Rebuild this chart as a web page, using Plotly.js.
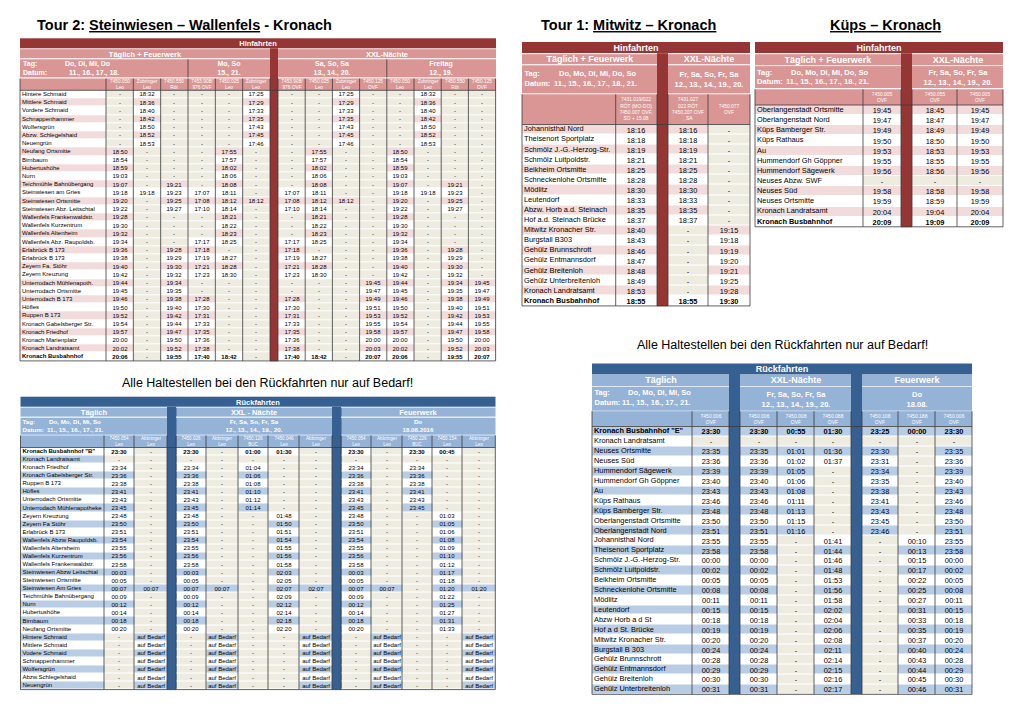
<!DOCTYPE html>
<html><head><meta charset="utf-8">
<script src="https://cdn.plot.ly/plotly-3.0.1.min.js"></script>
<style>html,body{margin:0;padding:0;background:#fff}#chart{width:1020px;height:721px}</style>
</head><body><div id="chart"></div>
<script>
// ---------------- DATA ----------------
// Tour 2 Hinfahrten
const t2hHead = ['Hinfahrten', 'Täglich + Feuerwerk', 'XXL-Nächte'];
const t2hDays = [['Tag:', 'Do, Di, Mi, Do'], ['Datum:', '11., 16., 17., 18.']];
const t2hGroups = ['Mo, So\n15., 21.', 'Sa, So, Sa\n13., 14., 20.', 'Freitag\n12., 19.'];
const t2hCodes = ['7450.050\nLeo','Zubringer\nLeo','7450.550\nRöt','7453.908/\n976 OVF','7450.025\nLeo','Zubringer\nLeo',
  '7453.908/\n976 OVF','7450.025\nLeo','Zubringer\nLeo','7450.125\nOVF','7450.050\nLeo','Zubringer\nLeo','7450.550\nRöt','7450.125\nOVF'];
const t2hStops = ['Hintere Schmaid','Mittlere Schmaid','Vordere Schmaid','Schnappenhammer','Wolfersgrün','Abzw. Schlegelshaid','Neuengrün',
  'Neufang Ortsmitte','Birnbaum','Hubertushöhe','Nurn','Teichmühle Bahnübergang','Steinwiesen am Gries','Steinwiesen Ortsmitte',
  'Steinwiesen Abz. Leitschtal','Wallenfels Frankenwaldstr.','Wallenfels Kurzentrum','Wallenfels Altenheim','Wallenfels Abz. Raupoldsb.',
  'Erlabrück B 173','Erlabrück B 173','Zeyern Fa. Stöhr','Zeyern Kreuzung','Unterrodach Mühlenapoth.','Unterrodach Ortsmitte',
  'Unterrodach B 173','Höfles','Ruppen B 173','Kronach Gabelsberger Str.','Kronach Friedhof','Kronach Marienplatz','Kronach Landratsamt','Kronach Busbahnhof'];
const t2hRows = [
  ['-','18:32','-','-','-','17:25','-','-','17:25','-','-','18:32','-','-'],
  ['-','18:36','-','-','-','17:29','-','-','17:29','-','-','18:36','-','-'],
  ['-','18:40','-','-','-','17:33','-','-','17:33','-','-','18:40','-','-'],
  ['-','18:42','-','-','-','17:35','-','-','17:35','-','-','18:42','-','-'],
  ['-','18:50','-','-','-','17:43','-','-','17:43','-','-','18:50','-','-'],
  ['-','18:52','-','-','-','17:45','-','-','17:45','-','-','18:52','-','-'],
  ['-','18:53','-','-','-','17:46','-','-','17:46','-','-','18:53','-','-'],
  ['18:50','-','-','-','17:55','-','-','17:55','-','-','18:50','-','-','-'],
  ['18:54','-','-','-','17:57','-','-','17:57','-','-','18:54','-','-','-'],
  ['18:59','-','-','-','18:02','-','-','18:02','-','-','18:59','-','-','-'],
  ['19:03','-','-','-','18:06','-','-','18:06','-','-','19:03','-','-','-'],
  ['19:07','-','19:21','-','18:08','-','-','18:08','-','-','19:07','-','19:21','-'],
  ['19:18','19:18','19:23','17:07','18:11','-','17:07','18:11','-','-','19:18','19:18','19:23','-'],
  ['19:20','-','19:25','17:08','18:12','18:12','17:08','18:12','18:12','-','19:20','-','19:25','-'],
  ['19:22','-','19:27','17:10','18:14','-','17:10','18:14','-','-','19:22','-','19:27','-'],
  ['19:28','-','-','-','18:21','-','-','18:21','-','-','19:28','-','-','-'],
  ['19:30','-','-','-','18:22','-','-','18:22','-','-','19:30','-','-','-'],
  ['19:32','-','-','-','18:23','-','-','18:23','-','-','19:32','-','-','-'],
  ['19:34','-','-','17:17','18:25','-','17:17','18:25','-','-','19:34','-','-','-'],
  ['19:36','-','19:28','17:18','-','-','17:18','-','-','-','19:36','-','19:28','-'],
  ['19:38','-','19:29','17:19','18:27','-','17:19','18:27','-','-','19:38','-','19:29','-'],
  ['19:40','-','19:30','17:21','18:28','-','17:21','18:28','-','-','19:40','-','19:30','-'],
  ['19:42','-','19:32','17:23','18:30','-','17:23','18:30','-','-','19:42','-','19:32','-'],
  ['19:44','-','19:34','-','-','-','-','-','-','19:45','19:44','-','19:34','19:45'],
  ['19:45','-','19:35','-','-','-','-','-','-','19:47','19:45','-','19:35','19:47'],
  ['19:46','-','19:38','17:28','-','-','17:28','-','-','19:49','19:46','-','19:38','19:49'],
  ['19:50','-','19:40','17:30','-','-','17:30','-','-','19:51','19:50','-','19:40','19:51'],
  ['19:52','-','19:42','17:31','-','-','17:31','-','-','19:53','19:52','-','19:42','19:53'],
  ['19:54','-','19:44','17:33','-','-','17:33','-','-','19:55','19:54','-','19:44','19:55'],
  ['19:57','-','19:47','17:35','-','-','17:35','-','-','19:58','19:57','-','19:47','19:58'],
  ['20:00','-','19:50','17:36','-','-','17:36','-','-','20:00','20:00','-','19:50','20:00'],
  ['20:02','-','19:52','17:38','-','-','17:38','-','-','20:03','20:02','-','19:52','20:03'],
  ['20:06','-','19:55','17:40','18:42','-','17:40','18:42','-','20:07','20:06','-','19:55','20:07']
];

// Tour 2 Rückfahrten
const t2rHead = ['Rückfahrten', 'Täglich', 'XXL - Nächte', 'Feuerwerk'];
const t2rDays = [['Tag:', 'Do, Mo, Di, Mi, So'], ['Datum:', '11., 15., 16., 17., 21.']];
const t2rGroups = ['Fr, Sa, So, Fr, Sa\n12., 13., 14., 19., 20.', 'Do\n18.08.2016'];
const t2rCodes = ['7450.054\nLeo','Abbringer\nLeo','7450.026\nLeo','Abbringer\nLeo','7450.126\nBUC','7450.046\nLeo','Abbringer\nLeo',
  '7450.054\nLeo','Abbringer\nLeo','7450.226\nBUC','7450.154\nLeo','Abbringer\nLeo'];
const t2rStops = ['Kronach Busbahnhof "B"','Kronach Landratsamt','Kronach Friedhof','Kronach Gabelsberger Str.','Ruppen B 173','Höfles',
  'Unterrodach Ortsmitte','Unterrodach Mühlenapotheke','Zeyern Kreuzung','Zeyern Fa Stöhr','Erlabrück B 173','Wallenfels Abzw Raupoldsb.',
  'Wallenfels Altersheim','Wallenfels Kurzentrum','Wallenfels Frankenwaldstr.','Steinwiesen Abzw Leitschtal','Steinwiesen Ortsmitte',
  'Steinwiesen Am Gries','Teichmühle Bahnübergang','Nurn','Hubertushöhe','Birnbaum','Neufang Ortsmitte','Hintere Schmaid','Mittlere Schmaid',
  'Vodere Schmaid','Schnappenhammer','Wolfersgrün','Abzw.Schlegelshaid','Neuengrün'];
const AB = 'auf Bedarf';
const t2rRows = [
  ['23:30','-','23:30','-','01:00','01:30','-','23:30','-','23:30','00:45','-'],
  ['-','-','-','-','-','-','-','-','-','-','-','-'],
  ['23:34','-','23:34','-','01:04','-','-','23:34','-','23:34','-','-'],
  ['23:36','-','23:36','-','01:06','-','-','23:36','-','23:36','-','-'],
  ['23:38','-','23:38','-','01:08','-','-','23:38','-','23:38','-','-'],
  ['23:41','-','23:41','-','01:10','-','-','23:41','-','23:41','-','-'],
  ['23:43','-','23:43','-','01:12','-','-','23:43','-','23:43','-','-'],
  ['23:45','-','23:45','-','01:14','-','-','23:45','-','23:45','-','-'],
  ['23:48','-','23:48','-','-','01:48','-','23:48','-','-','01:03','-'],
  ['23:50','-','23:50','-','-','01:50','-','23:50','-','-','01:05','-'],
  ['23:51','-','23:51','-','-','01:51','-','23:51','-','-','01:06','-'],
  ['23:54','-','23:54','-','-','01:54','-','23:54','-','-','01:08','-'],
  ['23:55','-','23:55','-','-','01:55','-','23:55','-','-','01:09','-'],
  ['23:56','-','23:56','-','-','01:56','-','23:56','-','-','01:10','-'],
  ['23:58','-','23:58','-','-','01:58','-','23:58','-','-','01:12','-'],
  ['00:03','-','00:03','-','-','02:03','-','00:03','-','-','01:17','-'],
  ['00:05','-','00:05','-','-','02:05','-','00:05','-','-','01:18','-'],
  ['00:07','00:07','00:07','00:07','-','02:07','02:07','00:07','00:07','-','01:20','01:20'],
  ['00:09','-','00:09','-','-','02:09','-','00:09','-','-','01:22','-'],
  ['00:12','-','00:12','-','-','02:12','-','00:12','-','-','01:25','-'],
  ['00:14','-','00:14','-','-','02:14','-','00:14','-','-','01:27','-'],
  ['00:18','-','00:18','-','-','02:18','-','00:18','-','-','01:31','-'],
  ['00:20','-','00:20','-','-','02:20','-','00:20','-','-','01:33','-'],
  ['-',AB,'-',AB,'-','-',AB,'-',AB,'-','-',AB],
  ['-',AB,'-',AB,'-','-',AB,'-',AB,'-','-',AB],
  ['-',AB,'-',AB,'-','-',AB,'-',AB,'-','-',AB],
  ['-',AB,'-',AB,'-','-',AB,'-',AB,'-','-',AB],
  ['-',AB,'-',AB,'-','-',AB,'-',AB,'-','-',AB],
  ['-',AB,'-',AB,'-','-',AB,'-',AB,'-','-',AB],
  ['-',AB,'-',AB,'-','-',AB,'-',AB,'-','-',AB]
];

// Tour 1 Hinfahrten
const t1hHead = ['Hinfahrten', 'Täglich + Feuerwerk', 'XXL-Nächte'];
const t1hDays = [['Tag:', 'Do, Mo, Di, Mi, Do, So'], ['Datum:', '11., 15., 16., 17., 18., 21.']];
const t1hGroups = ['Fr, Sa, So, Fr, Sa\n12., 13., 14., 19., 20.'];
const t1hCodes = ['7431.019/022\nRÖT (MO-DO)\n7450.007 OVF,\nSO + 15.08', '7431.027\n022 RÖT\n7450.207 OVF\n, SA', '7450.077\nOVF'];
const t1hStops = ['Johannisthal Nord','Theisenort Sportplatz','Schmölz J.-G.-Herzog-Str.','Schmölz Luitpoldstr.','Beikheim Ortsmitte',
  'Schneckenlohe Ortsmitte','Mödlitz','Leutendorf','Abzw. Horb a.d. Steinach','Hof a.d. Steinach Brücke','Mitwitz Kronacher Str.',
  'Burgstall B303','Gehülz Brunnschrott','Gehülz Entmannsdorf','Gehülz Breitenloh','Gehülz Unterbreitenloh','Kronach Landratsamt','Kronach Busbahnhof'];
const t1hRows = [['18:16','18:16','-'],['18:18','18:18','-'],['18:19','18:19','-'],['18:21','18:21','-'],['18:25','18:25','-'],
  ['18:28','18:28','-'],['18:30','18:30','-'],['18:33','18:33','-'],['18:35','18:35','-'],['18:37','18:37','-'],['18:40','-','19:15'],
  ['18:43','-','19:18'],['18:46','-','19:19'],['18:47','-','19:20'],['18:48','-','19:21'],['18:49','-','19:25'],['18:53','-','19:28'],['18:55','18:55','19:30']];

// Küps Hinfahrten
const kpsHead = ['Hinfahrten', 'Täglich + Feuerwerk', 'XXL-Nächte'];
const kpsDays = [['Tag:', 'Do, Mo, Di, Mi, Do, So'], ['Datum:', '11., 15., 16., 17., 18., 21.']];
const kpsGroups = ['Fr, Sa, So, Fr, Sa\n12., 13., 14., 19., 20.'];
const kpsCodes = ['7450.005\nOVF', '7450.055\nOVF', '7450.005\nOVF'];
const kpsStops = ['Oberlangenstadt Ortsmitte','Oberlangenstadt Nord','Küps Bamberger Str.','Küps Rathaus','Au','Hummendorf Gh Göppner',
  'Hummendorf Sägewerk','Neuses Abzw. SWF','Neuses Süd','Neuses Ortsmitte','Kronach Landratsamt','Kronach Busbahnhof'];
const kpsRows = [['19:45','18:45','19:45'],['19:47','18:47','19:47'],['19:49','18:49','19:49'],['19:50','18:50','19:50'],['19:53','18:53','19:53'],
  ['19:55','18:55','19:55'],['19:56','18:56','19:56'],['-','-','-'],['19:58','18:58','19:58'],['19:59','18:59','19:59'],['20:04','19:04','20:04'],['20:09','19:09','20:09']];

// Rückfahrten Tour 1 / Küps
const brHead = ['Rückfahrten', 'Täglich', 'XXL-Nächte', 'Feuerwerk'];
const brDays = [['Tag:', 'Do, Mo, Di, Mi, So'], ['Datum:', '11., 15., 16., 17., 21.']];
const brGroups = ['Fr, Sa, So, Fr, Sa\n12., 13., 14., 19., 20.', 'Do\n18.08.'];
const brCodes = ['7450.006\nOVF','7450.006\nOVF','7450.008\nOVF','7450.088\nOVF','7450.108\nOVF','7450.188\nOVF','7450.006\nOVF'];
const brStops = ['Kronach Busbahnhof "E"','Kronach Landratsamt','Neuses Ortsmitte','Neuses Süd','Hummendorf Sägewerk','Hummendorf Gh Göppner',
  'Au','Küps Rathaus','Küps Bamberger Str.','Oberlangenstadt Ortsmitte','Oberlangenstadt Nord','Johannisthal Nord','Theisenort Sportplatz',
  'Schmölz J.-G.-Herzog-Str.','Schmölz Luitpoldstr.','Beikheim Ortsmitte','Schneckenlohe Ortsmitte','Mödlitz','Leutendorf','Abzw Horb a d St',
  'Hof a d St. Brücke','Mitwitz Kronacher Str.','Burgstall B 303','Gehülz Brunnschrott','Gehülz Entmannsdorf','Gehülz Breitenloh','Gehülz Unterbreitenloh'];
const brRows = [
  ['23:30','23:30','00:55','01:30','23:25','00:00','23:30'],
  ['-','-','-','-','-','-','-'],
  ['23:35','23:35','01:01','01:36','23:30','-','23:35'],
  ['23:36','23:36','01:02','01:37','23:31','-','23:36'],
  ['23:39','23:39','01:05','-','23:34','-','23:39'],
  ['23:40','23:40','01:06','-','23:35','-','23:40'],
  ['23:43','23:43','01:08','-','23:38','-','23:43'],
  ['23:46','23:46','01:11','-','23:41','-','23:46'],
  ['23:48','23:48','01:13','-','23:43','-','23:48'],
  ['23:50','23:50','01:15','-','23:45','-','23:50'],
  ['23:51','23:51','01:16','-','23:46','-','23:51'],
  ['23:55','23:55','-','01:41','-','00:10','23:55'],
  ['23:58','23:58','-','01:44','-','00:13','23:58'],
  ['00:00','00:00','-','01:46','-','00:15','00:00'],
  ['00:02','00:02','-','01:48','-','00:17','00:02'],
  ['00:05','00:05','-','01:53','-','00:22','00:05'],
  ['00:08','00:08','-','01:56','-','00:25','00:08'],
  ['00:11','00:11','-','01:58','-','00:27','00:11'],
  ['00:15','00:15','-','02:02','-','00:31','00:15'],
  ['00:18','00:18','-','02:04','-','00:33','00:18'],
  ['00:19','00:19','-','02:06','-','00:35','00:19'],
  ['00:20','00:20','-','02:08','-','00:37','00:20'],
  ['00:24','00:24','-','02:11','-','00:40','00:24'],
  ['00:28','00:28','-','02:14','-','00:43','00:28'],
  ['00:29','00:29','-','02:15','-','00:44','00:29'],
  ['00:30','00:30','-','02:16','-','00:45','00:30'],
  ['00:31','00:31','-','02:17','-','00:46','00:31']
];

const titles = ['Tour 2: ', 'Steinwiesen – Wallenfels', ' - Kronach', 'Tour 1: ', 'Mitwitz – Kronach', 'Küps – Kronach'];
const noteText = 'Alle Haltestellen bei den Rückfahrten nur auf Bedarf!';

// ---------------- STYLE / LAYOUT ----------------
const FONT = 'Arial, "Liberation Sans", sans-serif';
const PAL = ['#ffffff','#f2dcdb','#eeece1','#963634','#da9694','#b8cce4','#366092','#95b3d7'];
const W=0, P=1, G=2, DR=3, LR=4, LB=5, DB=6, MB=7;
const CS = [];
PAL.forEach((c,i)=>{ CS.push([i/PAL.length, c]); CS.push([(i+1)/PAL.length, c]); });

function evenEdges(a,b,n){ const e=[]; for(let i=0;i<=n;i++) e.push(a+(b-a)*i/n); return e; }
function bl(s){ return s.split('\n').map(l=>l?'<b>'+l+'</b>':'').join('<br>'); }
function rep(k,n){ return Array(n).fill(k); }

const traces = [], shapes = [], annotations = [];
function hm(xe, ye, z, text, font, ygap){
  traces.push({type:'heatmap', x:xe, y:ye, z:z.map(r=>r.map(v=>v+0.5)), text:text, texttemplate:'%{text}',
    textfont:Object.assign({family:FONT}, font), colorscale:CS, zmin:0, zmax:PAL.length, showscale:false,
    hoverinfo:'skip', xgap:0, ygap:ygap||0});
}
function line(x0,y0,x1,y1,color,w){ shapes.push({type:'line', xref:'x', yref:'y', x0, y0, x1, y1, line:{color, width:w}}); }

const GEO = {
  t2h: { xe:[20].concat(evenEdges(106,270,6)).concat(evenEdges(278,495.6,8)),
         kinds:['L'].concat(rep('D',6),['S'],rep('D',8)),
         b1:[38.3,48.3], b2:[49.2,58.4], tag:[59.3,77.6], codes:[78.5,90.3], y0:90.3, pitch:8.2,
         b2Spans:[[20,270,1,'L'],[270,278,null,'S'],[278,495.6,2,'L']],
         tagSpans:[[20,188,null,'L'],[188,270,0,'L'],[270,278,null,'S'],[278,386.8,1,'L'],[386.8,495.6,2,'L']],
         tagLeft:{xl:23, xv1:65, xv2:69, dy:4.4}, tagLines:[188,386.8],
         fs:{band:7.5, tag:7, code:4.8, data:6, label:6} },
  t2r: { xe:[20.5,104,134,167,176,206,238,268,299,332,341,371,402,432,462,495.3],
         kinds:['L','D','D','S','D','D','D','D','D','S','D','D','D','D','D'],
         b1:[396.7,406.7], b2:[407.6,416.8], tag:[417.7,434.5], codes:[435.4,447.5], y0:447.5, pitch:8.07,
         b2Spans:[[20.5,167,1,'L'],[167,176,null,'S'],[176,332,2,'L'],[332,341,null,'S'],[341,495.3,3,'L']],
         tagSpans:[[20.5,167,null,'L'],[167,176,null,'S'],[176,332,0,'L'],[332,341,null,'S'],[341,495.3,1,'L']],
         tagLeft:{xl:22.5, xv1:49, xv2:47, dy:4.1}, tagLines:[],
         fs:{band:7.5, tag:6.2, code:4.6, data:6, label:6} },
  t1h: { xe:[522,615.7,657,668,708,750], kinds:['L','D','S','D','D'],
         b1:[42,53.2], b2:[54.2,64.4], tag:[65.3,93.4], codes:[94.3,124.5], y0:124.5, pitch:10.08,
         b2Spans:[[522,657,1,'L'],[657,668,null,'S'],[668,750,2,'L']],
         tagSpans:[[522,657,null,'L'],[657,668,null,'S'],[668,750,0,'L']],
         tagLeft:{xl:524.5, xv1:559, xv2:554, dy:4.9}, tagLines:[],
         fs:{band:9, tag:7.5, code:4.9, data:7.4, label:7.4} },
  kps: { xe:[755,863,901,912,957,1003], kinds:['L','D','S','D','D'],
         b1:[42,53.2], b2:[54.2,65.2], tag:[66.1,88.4], codes:[89.3,105], y0:105, pitch:10.15,
         b2Spans:[[755,901,1,'L'],[901,912,null,'S'],[912,1003,2,'L']],
         tagSpans:[[755,901,null,'L'],[901,912,null,'S'],[912,1003,0,'L']],
         tagLeft:{xl:757, xv1:791, xv2:786, dy:4.6}, tagLines:[],
         fs:{band:9, tag:7.5, code:4.9, data:7.4, label:7.4} },
  br:  { xe:[592,692,729,740,777,814,851,862,898,935,972], kinds:['L','D','S','D','D','D','S','D','D','D'],
         b1:[363.5,374], b2:[375,385.8], tag:[386.7,410.3], codes:[411.2,426.5], y0:426.5, pitch:9.92,
         b2Spans:[[592,729,1,'L'],[729,740,null,'S'],[740,851,2,'L'],[851,862,null,'S'],[862,972,3,'L']],
         tagSpans:[[592,729,null,'L'],[729,740,null,'S'],[740,851,0,'L'],[851,862,null,'S'],[862,972,1,'L']],
         tagLeft:{xl:594.5, xv1:628, xv2:622, dy:5}, tagLines:[],
         fs:{band:9, tag:7.5, code:5, data:7.4, label:7.4} }
};

function spansRow(y, spans, texts, T, size){
  const xe=[spans[0][0]], z=[[]], t=[[]];
  spans.forEach(s=>{ xe.push(s[1]); z[0].push(s[3]==='S'?T.dark:T.light); t[0].push(s[2]===null?'':bl(texts[s[2]])); });
  hm(xe, y, z, t, {size, color:'#ffffff'});
}

function drawTable(T){
  const g=T.geo, xe=g.xe, kinds=g.kinds, fs=g.fs;
  const xL=xe[0], xR=xe[xe.length-1];
  const n=T.stops.length;
  const ye=[]; for(let i=0;i<=n;i++) ye.push(g.y0+i*g.pitch);
  const yB=ye[n];
  // header bands
  hm([xL,xR], g.b1, [[T.dark]], [[bl(T.head[0])]], {size:fs.band, color:'#ffffff'});
  spansRow(g.b2, g.b2Spans, T.head, T, fs.band);
  spansRow(g.tag, g.tagSpans, T.groups, T, fs.tag);
  // code row
  let k=0; const cz=[[]], ct=[[]];
  kinds.forEach(kd=>{
    if(kd==='S'){ cz[0].push(T.dark); ct[0].push(''); }
    else if(kd==='L'){ cz[0].push(T.light); ct[0].push(''); }
    else { cz[0].push(T.light); ct[0].push(T.codes[k++].split('\n').join('<br>')); }
  });
  hm(xe, g.codes, cz, ct, {size:fs.code, color:'#ffffff'});
  // data grid
  const z=[], t=[];
  T.rows.forEach((r,i)=>{
    const rc=T.rowColor(i), zr=[], tr=[]; let j=0;
    kinds.forEach(kd=>{
      if(kd==='L'){ zr.push(rc); tr.push(''); }
      else if(kd==='S'){ zr.push(T.dark); tr.push(''); }
      else { const v=r[j++]; zr.push(v==='-'?G:rc); tr.push(i===T.boldRow && v!=='-' ? '<b>'+v+'</b>' : v); }
    });
    z.push(zr); t.push(tr);
  });
  hm(xe, ye, z, t, {size:fs.data, color:'#000000'}, 1);
  // separator columns
  kinds.forEach((kd,j)=>{ if(kd==='S') hm([xe[j],xe[j+1]], [g.b1[1], yB], [[T.dark]], [['']], {size:5, color:'#ffffff'}); });
  // stop labels
  traces.push({type:'scatter', mode:'text', x:T.stops.map(()=>xL+2), y:T.stops.map((_,i)=>g.y0+(i+0.5)*g.pitch),
    text:T.stops.map((s,i)=>i===T.boldRow?'<b>'+s+'</b>':s), textposition:'middle right',
    textfont:{family:FONT, size:fs.label, color:'#000000'}, hoverinfo:'skip', cliponaxis:false, showlegend:false});
  // Tag / Datum (left aligned)
  const tc=(g.tag[0]+g.tag[1])/2, d=g.tagLeft.dy, tl=g.tagLeft;
  traces.push({type:'scatter', mode:'text', x:[tl.xl, tl.xv1, tl.xl, tl.xv2], y:[tc-d, tc-d, tc+d, tc+d],
    text:[T.days[0][0], T.days[0][1], T.days[1][0], T.days[1][1]].map(s=>'<b>'+s+'</b>'), textposition:'middle right',
    textfont:{family:FONT, size:fs.tag, color:'#ffffff'}, hoverinfo:'skip', cliponaxis:false, showlegend:false});
  // borders
  const lc='#3a3a3a', lw=0.8;
  xe.forEach(e=>line(e, g.codes[0], e, yB, lc, lw));
  line(xL, g.y0, xR, g.y0, lc, lw);
  line(xL, yB, xR, yB, lc, lw);
  g.tagLines.forEach(e=>line(e, g.tag[0], e, g.tag[1], lc, lw));
}

drawTable({geo:GEO.t2h, head:t2hHead, days:t2hDays, groups:t2hGroups, codes:t2hCodes, stops:t2hStops, rows:t2hRows,
  dark:DR, light:LR, rowColor:i=>i%2===0?W:P, boldRow:t2hStops.length-1});
drawTable({geo:GEO.t2r, head:t2rHead, days:t2rDays, groups:t2rGroups, codes:t2rCodes, stops:t2rStops, rows:t2rRows,
  dark:DB, light:MB, rowColor:i=>i%2===0?W:LB, boldRow:0});
drawTable({geo:GEO.t1h, head:t1hHead, days:t1hDays, groups:t1hGroups, codes:t1hCodes, stops:t1hStops, rows:t1hRows,
  dark:DR, light:LR, rowColor:i=>i%2===0?P:W, boldRow:t1hStops.length-1});
drawTable({geo:GEO.kps, head:kpsHead, days:kpsDays, groups:kpsGroups, codes:kpsCodes, stops:kpsStops, rows:kpsRows,
  dark:DR, light:LR, rowColor:i=>i%2===0?P:W, boldRow:kpsStops.length-1});
drawTable({geo:GEO.br, head:brHead, days:brDays, groups:brGroups, codes:brCodes, stops:brStops, rows:brRows,
  dark:DB, light:MB, rowColor:i=>i%2===0?LB:W, boldRow:0});

// titles and notes
const U = s => '<span style="text-decoration:underline">'+s+'</span>';
function ann(x, y, text, size){
  annotations.push({xref:'x', yref:'y', x, y, xanchor:'left', yanchor:'middle', showarrow:false, text,
    font:{family:FONT, size, color:'#000000'}});
}
ann(35, 25, '<b>'+titles[0]+U(titles[1])+titles[2]+'</b>', 14.5);
ann(539, 25, '<b>'+titles[3]+U(titles[4])+'</b>', 14.5);
ann(828, 25, '<b>'+U(titles[5])+'</b>', 14.5);
ann(120, 383, noteText, 12.5);
ann(635, 345, noteText, 12.5);

const layout = {
  width:1020, height:721, margin:{l:0, r:0, t:0, b:0}, paper_bgcolor:'#ffffff', plot_bgcolor:'#ffffff', showlegend:false,
  xaxis:{range:[0,1020], visible:false, fixedrange:true},
  yaxis:{range:[721,0], visible:false, fixedrange:true},
  shapes, annotations
};
Plotly.newPlot('chart', traces, layout, {staticPlot:true, displayModeBar:false});
</script></body></html>
